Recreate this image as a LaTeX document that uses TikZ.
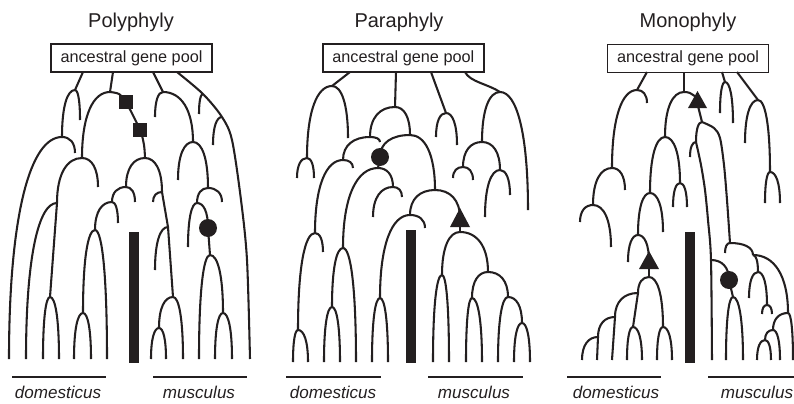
\documentclass[tikz,border=0pt]{standalone}
\usepackage{fontspec}
\setmainfont{Liberation Sans}
\definecolor{ink}{HTML}{231F20}
\newcommand\br[4]{\draw[tree] (#1,#2) .. controls ({#1+0.6*(#3-#1)},#2) and (#3,{#2+0.35*(#4-#2)}) .. (#3,#4);}
\newcommand\sg[4]{\draw[tree] (#1,#2) -- (#3,#4);}
\begin{document}
\begin{tikzpicture}[x=0.75pt,y=-0.75pt,
  tree/.style={line width=1.55pt, line join=round, draw=ink},
  title/.style={font=\fontsize{15}{18}\selectfont, text=ink, anchor=base, inner sep=0pt},
  pool/.style={draw=ink, line width=1.35pt, minimum width=120.75pt, minimum height=21pt, inner sep=0pt, font=\fontsize{12.2}{14}\selectfont, text=ink},
  lab/.style={font=\fontsize{12.8}{15}\selectfont\itshape, text=ink, anchor=base, inner sep=0pt},
  sq/.style={fill=ink, minimum size=10.5pt, inner sep=0pt},
  dot/.style={circle, fill=ink, minimum size=13.5pt, inner sep=0pt},
  bar/.style={fill=ink}]
\useasboundingbox (0,0) rectangle (794,404);

% ---------- titles and boxes ----------
\node[title] (t1) at (131,27) {Polyphyly};
\node[title] (t2) at (399,27) {Paraphyly};
\node[title] (t3) at (688,27) {Monophyly};
\node[pool] (p1) at (131.5,58) {ancestral gene pool};
\node[pool] (p2) at (403.3,58) {ancestral gene pool};
\node[pool] (p3) at (688,58.5) {ancestral gene pool};

% ---------- panel 1: Polyphyly ----------
\sg{83}{72}{75}{90}
\br{75}{90}{80}{120}
\br{75}{90}{62}{137}
\br{62}{137}{9}{359}
\br{62}{137}{75}{153}
\sg{113}{72}{110}{92}
\br{110}{92}{82}{158}
\draw[tree] plot[smooth] coordinates {(110,92) (119,94) (126,102) (140,130) (144,145) (145,158)};
\br{82}{158}{57}{203}
\br{82}{158}{98}{187}
\sg{57}{203}{50}{297}
\br{57}{203}{26}{359}
\br{50}{297}{43}{359}
\br{50}{297}{59}{359}
\br{145}{158}{126}{187}
\br{145}{158}{162}{192}
\sg{162}{192}{168}{227}
\sg{168}{227}{173}{297}
\br{162}{192}{153}{202}
\br{168}{227}{155}{270}
\br{173}{297}{159}{328}
\br{173}{297}{183}{359}
\br{159}{328}{151}{359}
\br{159}{328}{166}{359}
\br{126}{187}{112}{202}
\br{126}{187}{135}{202}
\br{112}{202}{95}{230}
\br{112}{202}{118}{223}
\br{95}{230}{83}{313}
\br{95}{230}{107}{359}
\br{83}{313}{74}{359}
\br{83}{313}{91}{359}
\sg{153}{72}{163}{92}
\br{163}{92}{155}{117}
\br{163}{92}{193}{142}
\br{193}{142}{178}{180}
\br{193}{142}{208}{188}
\br{208}{188}{197}{203}
\br{208}{188}{222}{202}
\br{197}{203}{188}{247}
\br{197}{203}{208}{228}
\sg{208}{228}{210}{255}
\br{210}{255}{199}{359}
\br{210}{255}{223}{313}
\br{223}{313}{215}{359}
\br{223}{313}{232}{359}
\draw[tree] plot[smooth] coordinates {(177,72) (203,94) (222,117) (232,140) (241,200) (247,260) (250,359)};
\br{203}{94}{199}{114}
\br{222}{117}{213}{145}
\node[sq] (s1) at (126,102) {};
\node[sq] (s2) at (140,130) {};
\node[dot] (c1) at (208,228) {};
\fill[bar] (129,232) rectangle (139,363);
\draw[tree] (12,377) -- (106,377);
\draw[tree] (153,377) -- (247,377);
\node[lab] (d1) at (58,398) {domesticus};
\node[lab] (m1) at (199,398) {musculus};

% ---------- panel 2: Paraphyly ----------
\sg{350}{72}{332}{86}
\br{332}{86}{348}{138}
\br{332}{86}{307}{158}
\br{307}{158}{297}{178}
\br{307}{158}{314}{178}
\sg{396}{72}{395}{107}
\br{395}{107}{370}{137}
\br{395}{107}{410}{135}
\br{370}{137}{343}{160}
\br{370}{137}{380}{142}
\br{343}{160}{315}{233}
\br{343}{160}{353}{168}
\br{315}{233}{298}{330}
\br{315}{233}{323}{252}
\br{298}{330}{293}{362}
\br{298}{330}{308}{362}
\br{410}{135}{380}{157}
\sg{380}{157}{378}{168}
\br{378}{168}{343}{248}
\br{378}{168}{393}{187}
\br{343}{248}{332}{307}
\br{343}{248}{356}{362}
\br{332}{307}{324}{362}
\br{332}{307}{340}{362}
\br{393}{187}{373}{217}
\br{393}{187}{402}{197}
\br{410}{135}{435}{190}
\br{435}{190}{410}{215}
\br{435}{190}{460}{218}
\sg{460}{218}{460}{232}
\br{410}{215}{380}{298}
\br{410}{215}{425}{228}
\br{380}{298}{372}{362}
\br{380}{298}{388}{362}
\br{460}{232}{442}{275}
\br{460}{232}{488}{272}
\br{442}{275}{433}{362}
\br{442}{275}{449}{362}
\br{488}{272}{472}{298}
\br{488}{272}{508}{297}
\br{472}{298}{466}{362}
\br{472}{298}{482}{362}
\br{508}{297}{498}{362}
\br{508}{297}{522}{323}
\br{522}{323}{514}{362}
\br{522}{323}{530}{362}
\sg{431}{72}{446}{113}
\br{446}{113}{436}{137}
\br{446}{113}{457}{145}
\draw[tree] (465,72) .. controls (470,82) and (488,84) .. (500,92);
\br{500}{92}{482}{142}
\br{500}{92}{528}{210}
\br{482}{142}{463}{167}
\br{482}{142}{500}{170}
\br{463}{167}{453}{178}
\br{463}{167}{473}{180}
\br{500}{170}{485}{217}
\br{500}{170}{510}{195}
\node[dot] (c2) at (380,157) {};
\fill[ink] (450,227) -- (470,227) -- (460,208) -- cycle;
\fill[bar] (406,230) rectangle (416,363);
\draw[tree] (286,377) -- (381,377);
\draw[tree] (428,377) -- (523,377);
\node[lab] (d2) at (333,398) {domesticus};
\node[lab] (m2) at (474,398) {musculus};

% ---------- panel 3: Monophyly ----------
\sg{647}{72}{637}{90}
\br{637}{90}{647}{103}
\br{637}{90}{612}{168}
\br{612}{168}{593}{205}
\br{612}{168}{625}{190}
\br{593}{205}{580}{222}
\br{593}{205}{611}{247}
\sg{684}{72}{684}{92}
\br{684}{92}{665}{137}
\br{684}{92}{698}{106}
\sg{698}{106}{702}{122}
\br{665}{137}{650}{193}
\br{665}{137}{680}{183}
\br{680}{183}{673}{207}
\br{680}{183}{687}{207}
\br{650}{193}{638}{235}
\br{650}{193}{663}{232}
\br{638}{235}{628}{262}
\br{638}{235}{649}{262}
\sg{649}{262}{649}{277}
\br{649}{277}{638}{293}
\br{649}{277}{663}{327}
\br{663}{327}{657}{360}
\br{663}{327}{672}{360}
\sg{638}{293}{633}{327}
\br{638}{293}{615}{317}
\br{633}{327}{627}{360}
\br{633}{327}{642}{360}
\br{615}{317}{598}{337}
\sg{615}{317}{612}{360}
\br{598}{337}{582}{360}
\sg{598}{337}{597}{360}
\br{702}{122}{696}{142}
\draw[tree] plot[smooth] coordinates {(702,122) (714,128) (720,138) (724,165) (727,200) (730,243)};
\br{696}{142}{690}{157}
\draw[tree] plot[smooth] coordinates {(696,142) (701,165) (705,190) (708,220) (711,260) (712,360)};
\br{711}{260}{729}{280}
\sg{729}{280}{733}{297}
\br{733}{297}{726}{360}
\br{733}{297}{743}{360}
\br{730}{243}{725}{253}
\br{730}{243}{753}{255}
\br{753}{255}{758}{272}
\br{758}{272}{749}{298}
\br{758}{272}{767}{305}
\br{767}{305}{762}{314}
\br{767}{305}{772}{314}
\br{753}{255}{788}{313}
\br{788}{313}{773}{330}
\br{788}{313}{793}{360}
\br{773}{330}{765}{340}
\br{773}{330}{780}{360}
\br{765}{340}{757}{360}
\br{765}{340}{771}{360}
\sg{722}{72}{725}{82}
\br{725}{82}{720}{113}
\br{725}{82}{733}{123}
\sg{737}{72}{758}{100}
\br{758}{100}{745}{143}
\br{758}{100}{770}{172}
\br{770}{172}{765}{203}
\br{770}{172}{780}{203}
\fill[ink] (688,108) -- (707,108) -- (697.5,91) -- cycle;
\fill[ink] (639,269) -- (659,269) -- (649,251) -- cycle;
\node[dot] (c3) at (729,280) {};
\fill[bar] (685,232) rectangle (695,363);
\draw[tree] (567,377) -- (661,377);
\draw[tree] (708,377) -- (794,377);
\node[lab] (d3) at (616,398) {domesticus};
\node[lab] (m3) at (757,398) {musculus};
\end{tikzpicture}
\end{document}
